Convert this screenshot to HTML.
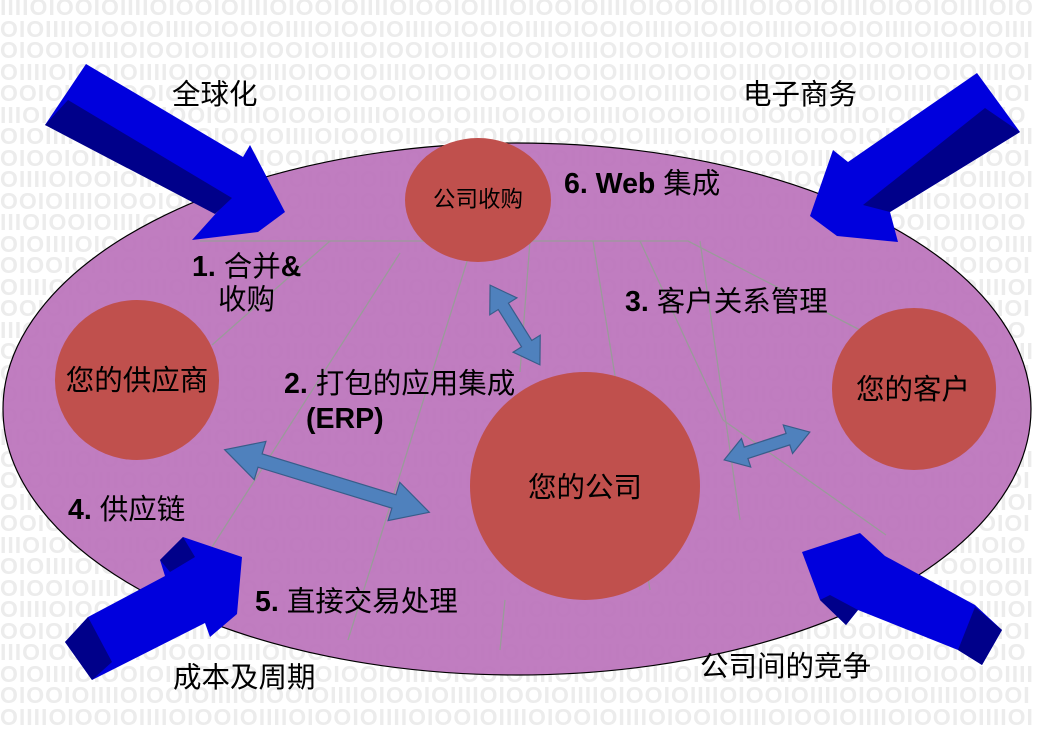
<!DOCTYPE html>
<html><head><meta charset="utf-8"><style>
html,body{margin:0;padding:0;width:1037px;height:729px;overflow:hidden;background:#fff;position:relative}
#bg{position:absolute;left:0;top:-3px;width:1037px;height:732px;overflow:hidden;font:bold 23px/21.5px "Liberation Sans",sans-serif;color:#ececec;word-break:break-all;letter-spacing:1px}
svg{position:absolute;left:0;top:0}
text{font-family:"Liberation Sans","Noto Sans CJK SC",sans-serif;fill:#000}
</style></head><body>
<div id="bg">IIIIOIOOIOIIIIOIOOIOIIIIOIOOIOIIIIOIOOIOIIIIOIOOIOIIIIOIOOIOIIIIOIOOIOIIIIOIOOIOIIIIOIOOIOIIIIOIOOIOIIIIOIOOIOIIIIOIOOIOIIIIOIOOIOIIIIOIOOIOIIIIOIOOIOIIIIOIOOIOIIIIOIOOIOIIIIOIOOIOIIIIOIOOIOIIIIOIOOIOIIIIOIOOIOIIIIOIOOIOIIIIOIOOIOIIIIOIOOIOIIIIOIOOIOIIIIOIOOIOIIIIOIOOIOIIIIOIOOIOIIIIOIOOIOIIIIOIOOIOIIIIOIOOIOIIIIOIOOIOIIIIOIOOIOIIIIOIOOIOIIIIOIOOIOIIIIOIOOIOIIIIOIOOIOIIIIOIOOIOIIIIOIOOIOIIIIOIOOIOIIIIOIOOIOIIIIOIOOIOIIIIOIOOIOIIIIOIOOIOIIIIOIOOIOIIIIOIOOIOIIIIOIOOIOIIIIOIOOIOIIIIOIOOIOIIIIOIOOIOIIIIOIOOIOIIIIOIOOIOIIIIOIOOIOIIIIOIOOIOIIIIOIOOIOIIIIOIOOIOIIIIOIOOIOIIIIOIOOIOIIIIOIOOIOIIIIOIOOIOIIIIOIOOIOIIIIOIOOIOIIIIOIOOIOIIIIOIOOIOIIIIOIOOIOIIIIOIOOIOIIIIOIOOIOIIIIOIOOIOIIIIOIOOIOIIIIOIOOIOIIIIOIOOIOIIIIOIOOIOIIIIOIOOIOIIIIOIOOIOIIIIOIOOIOIIIIOIOOIOIIIIOIOOIOIIIIOIOOIOIIIIOIOOIOIIIIOIOOIOIIIIOIOOIOIIIIOIOOIOIIIIOIOOIOIIIIOIOOIOIIIIOIOOIOIIIIOIOOIOIIIIOIOOIOIIIIOIOOIOIIIIOIOOIOIIIIOIOOIOIIIIOIOOIOIIIIOIOOIOIIIIOIOOIOIIIIOIOOIOIIIIOIOOIOIIIIOIOOIOIIIIOIOOIOIIIIOIOOIOIIIIOIOOIOIIIIOIOOIOIIIIOIOOIOIIIIOIOOIOIIIIOIOOIOIIIIOIOOIOIIIIOIOOIOIIIIOIOOIOIIIIOIOOIOIIIIOIOOIOIIIIOIOOIOIIIIOIOOIOIIIIOIOOIOIIIIOIOOIOIIIIOIOOIOIIIIOIOOIOIIIIOIOOIOIIIIOIOOIOIIIIOIOOIOIIIIOIOOIOIIIIOIOOIOIIIIOIOOIOIIIIOIOOIOIIIIOIOOIOIIIIOIOOIOIIIIOIOOIOIIIIOIOOIOIIIIOIOOIOIIIIOIOOIOIIIIOIOOIOIIIIOIOOIOIIIIOIOOIOIIIIOIOOIOIIIIOIOOIOIIIIOIOOIOIIIIOIOOIOIIIIOIOOIOIIIIOIOOIOIIIIOIOOIOIIIIOIOOIOIIIIOIOOIOIIIIOIOOIOIIIIOIOOIOIIIIOIOOIOIIIIOIOOIOIIIIOIOOIOIIIIOIOOIOIIIIOIOOIOIIIIOIOOIOIIIIOIOOIOIIIIOIOOIOIIIIOIOOIOIIIIOIOOIOIIIIOIOOIOIIIIOIOOIOIIIIOIOOIOIIIIOIOOIOIIIIOIOOIOIIIIOIOOIOIIIIOIOOIOIIIIOIOOIOIIIIOIOOIOIIIIOIOOIOIIIIOIOOIOIIIIOIOOIOIIIIOIOOIOIIIIOIOOIOIIIIOIOOIOIIIIOIOOIOIIIIOIOOIOIIIIOIOOIOIIIIOIOOIOIIIIOIOOIOIIIIOIOOIOIIIIOIOOIOIIIIOIOOIOIIIIOIOOIOIIIIOIOOIOIIIIOIOOIOIIIIOIOOIOIIIIOIOOIOIIIIOIOOIOIIIIOIOOIOIIIIOIOOIOIIIIOIOOIOIIIIOIOOIOIIIIOIOOIOIIIIOIOOIOIIIIOIOOIOIIIIOIOOIOIIIIOIOOIOIIIIOIOOIOIIIIOIOOIOIIIIOIOOIOIIIIOIOOIOIIIIOIOOIOIIIIOIOOIOIIIIOIOOIOIIIIOIOOIOIIIIOIOOIOIIIIOIOOIOIIIIOIOOIOIIIIOIOOIOIIIIOIOOIOIIIIOIOOIOIIIIOIOOIOIIIIOIOOIOIIIIOIOOIOIIIIOIOOIOIIIIOIOOIOIIIIOIOOIOIIIIOIOOIOIIIIOIOOIOIIIIOIOOIOIIIIOIOOIOIIIIOIOOIOIIIIOIOOIOIIIIOIOOIOIIIIOIOOIOIIIIOIOOIOIIIIOIOOIOIIIIOIOOIOIIIIOIOOIOIIIIOIOOIOIIIIOIOOIOIIIIOIOOIOIIIIOIOOIOIIIIOIOOIOIIIIOIOOIOIIIIOIOOIOIIIIOIOOIOIIIIOIOOIOIIIIOIOOIOIIIIOIOOIOIIIIOIOOIOIIIIOIOOIOIIIIOIOOIOIIIIOIOOIOIIIIOIOOIOIIIIOIOOIOIIIIOIOOIOIIIIOIOOIOIIIIOIOOIOIIIIOIOOIOIIIIOIOOIOIIIIOIOOIOIIIIOIOOIOIIIIOIOOIOIIIIOIOOIOIIIIOIOOIOIIIIOIOOIOIIIIOIOOIOIIIIOIOOIOIIIIOIOOIOIIIIOIOOIOIIIIOIOOIOIIIIOIOOIOIIIIOIOOIOIIIIOIOOIOIIIIOIOOIOIIIIOIOOIOIIIIOIOOIOIIIIOIOOIOIIIIOIOOIOIIIIOIOOIOIIIIOIOOIOIIIIOIOOIOIIIIOIOOIOIIIIOIOOIOIIIIOIOOIOIIIIOIOOIOIIIIOIOOIOIIIIOIOOIOIIIIOIOOIOIIIIOIOOIOIIIIOIOOIOIIIIOIOOIOIIIIOIOOIOIIIIOIOOIOIIIIOIOOIOIIIIOIOOIOIIIIOIOOIOIIIIOIOOIOIIIIOIOOIOIIIIOIOOIOIIIIOIOOIOIIIIOIOOIOIIIIOIOOIOIIIIOIOOIOIIIIOIOOIOIIIIOIOOIOIIIIOIOOIOIIIIOIOOIOIIIIOIOOIOIIIIOIOOIOIIIIOIOOIOIIIIOIOOIOIIIIOIOOIOIIIIOIOOIOIIIIOIOOIOIIIIOIOOIOIIIIOIOOIOIIIIOIOOIOIIIIOIOOIOIIIIOIOOIOIIIIOIOOIOIIIIOIOOIOIIIIOIOOIOIIIIOIOOIOIIIIOIOOIOIIIIOIOOIOIIIIOIOOIOIIIIOIOOIOIIIIOIOOIOIIIIOIOOIOIIIIOIOOIOIIIIOIOOIOIIIIOIOOIOIIIIOIOOIOIIIIOIOOIOIIIIOIOOIOIIIIOIOOIOIIIIOIOOIOIIIIOIOOIOIIIIOIOOIOIIIIOIOOIOIIIIOIOOIOIIIIOIOOIOIIIIOIOOIOIIIIOIOOIOIIIIOIOOIOIIIIOIOOIOIIIIOIOOIOIIIIOIOOIOIIIIOIOOIOIIIIOIOOIOIIIIOIOOIOIIIIOIOOIOIIIIOIOOIOIIIIOIOOIOIIIIOIOOIOIIIIOIOOIOIIIIOIOOIOIIIIOIOOIOIIIIOIOOIOIIIIOIOOIOIIIIOIOOIOIIIIOIOOIOIIIIOIOOIOIIIIOIOOIOIIIIOIOOIOIIIIOIOOIOIIIIOIOOIOIIIIOIOOIOIIIIOIOOIOIIIIOIOOIOIIIIOIOOIOIIIIOIOOIOIIIIOIOOIOIIIIOIOOIOIIIIOIOOIOIIIIOIOOIOIIIIOIOOIOIIIIOIOOIOIIIIOIOOIOIIIIOIOOIOIIIIOIOOIOIIIIOIOOIO</div>
<svg width="1037" height="729" viewBox="0 0 1037 729">
<ellipse cx="517" cy="409" rx="514" ry="266" fill="#bb72bb" fill-opacity="0.92" stroke="#000" stroke-width="1.2"/>
<g stroke="#9a9a9a" stroke-width="1.3" fill="none">
<polyline points="200,241 688,241 860,330"/>
<line x1="330" y1="241" x2="212" y2="345"/>
<line x1="400" y1="253" x2="212" y2="547"/>
<line x1="470" y1="252" x2="348" y2="640"/>
<line x1="530" y1="241" x2="520" y2="372"/>
<line x1="505" y1="600" x2="500" y2="650"/>
<line x1="593" y1="241" x2="650" y2="590"/>
<line x1="640" y1="241" x2="723" y2="420"/>
<line x1="723" y1="420" x2="886" y2="535"/>
<line x1="700" y1="241" x2="740" y2="520"/>
</g>
<g fill="#c0504d">
<ellipse cx="478" cy="200" rx="73" ry="62"/>
<ellipse cx="137" cy="380" rx="82" ry="80"/>
<ellipse cx="585" cy="486" rx="115" ry="114"/>
<ellipse cx="914" cy="389" rx="82" ry="81"/>
</g>
<g fill="#4f81bd" stroke="#385d8a" stroke-width="1.2">
<polygon transform="translate(327,481) rotate(17)" points="-107,0 -70,-20 -70,-7 70,-7 70,-20 107,0 70,20 70,7 -70,7 -70,20"/>
<polygon transform="translate(515,325) rotate(58)" points="-47,0 -22,-16 -22,-6 22,-6 22,-16 47,0 22,16 22,6 -22,6 -22,16"/>
<polygon transform="translate(767,446) rotate(-18)" points="-45,0 -22,-15 -22,-6 22,-6 22,-15 45,0 22,15 22,6 -22,6 -22,15"/>
</g>
<g>
<polygon fill="#0000dd" points="86,64 243,157 250,145 285,212 258,232 192,240 228,200 45,125"/>
<polygon fill="#00008a" points="45,125 68,100 232,198 215,214"/>
<polygon fill="#0000dd" points="977,73 1020,132 890,212 898,242 837,236 810,216 833,150 848,162"/>
<polygon fill="#00008a" points="985,108 1020,132 890,212 863,205"/>
<polygon fill="#0000dd" points="65,642 88,617 165,576 160,560 183,537 242,557 237,614 210,637 205,623 92,680"/>
<polygon fill="#00008a" points="65,642 88,617 112,662 92,680"/>
<polygon fill="#00008a" points="160,560 183,537 195,557 170,572"/>
<polygon fill="#0000dd" points="802,552 860,533 885,556 975,605 1002,630 982,665 958,650 858,610 846,625 820,600"/>
<polygon fill="#00008a" points="958,650 982,665 1002,630 975,607"/>
<polygon fill="#00008a" points="820,600 846,625 858,610 830,595"/>
</g>
<g font-size="28.5">
<text x="172" y="104">全球化</text>
<text x="743" y="104">电子商务</text>
<text x="564" y="193"><tspan font-weight="bold">6. Web</tspan> 集成</text>
<text x="192" y="276"><tspan font-weight="bold">1.</tspan> 合并<tspan font-weight="bold">&amp;</tspan></text>
<text x="218" y="309">收购</text>
<text x="625" y="311"><tspan font-weight="bold">3.</tspan> 客户关系管理</text>
<text x="284" y="393"><tspan font-weight="bold">2.</tspan> 打包的应用集成</text>
<text x="306" y="428" font-weight="bold">(ERP)</text>
<text x="68" y="519"><tspan font-weight="bold">4.</tspan> 供应链</text>
<text x="255" y="611"><tspan font-weight="bold">5.</tspan> 直接交易处理</text>
<text x="173" y="687">成本及周期</text>
<text x="700" y="676">公司间的竞争</text>
<text x="137" y="390" text-anchor="middle">您的供应商</text>
<text x="585" y="497" text-anchor="middle">您的公司</text>
<text x="913" y="399" text-anchor="middle">您的客户</text>
<text x="478" y="207" text-anchor="middle" font-size="22.5">公司收购</text>
</g>
</svg>
</body></html>
